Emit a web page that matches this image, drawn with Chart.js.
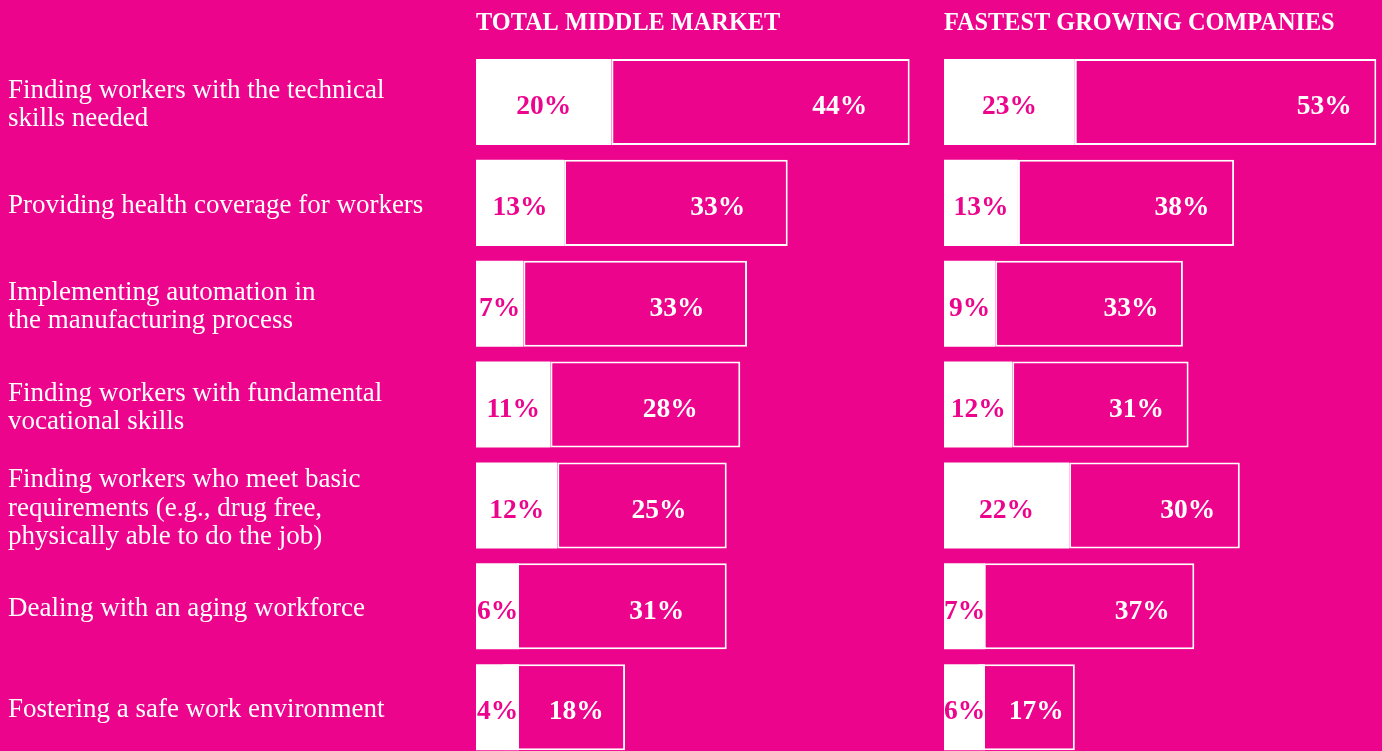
<!DOCTYPE html>
<html>
<head>
<meta charset="utf-8">
<script src="https://cdn.jsdelivr.net/npm/chart.js@4.4.0/dist/chart.umd.min.js"></script>
<style>
html, body { margin:0; padding:0; background:#EC048C; overflow:hidden; width:1382px; height:751px; }
#grafico1 { position:absolute; left:0; top:0; width:930px; height:760px; }
#grafico2 { position:absolute; left:930px; top:0; width:452px; height:760px; }
</style>
</head>
<body>
<canvas id="grafico1" width="930" height="760"></canvas>
<canvas id="grafico2" width="452" height="760"></canvas>
<script>
var rosa = "#EC048C";

// categorias (etiquetas del eje y, en varias lineas)
var categorias = [
    ["Finding workers with the technical", "skills needed"],
    "Providing health coverage for workers",
    ["Implementing automation in", "the manufacturing process"],
    ["Finding workers with fundamental", "vocational skills"],
    ["Finding workers who meet basic", "requirements (e.g., drug free,", "physically able to do the job)"],
    "Dealing with an aging workforce",
    "Fostering a safe work environment"
];

// TOTAL MIDDLE MARKET
var totalBlanco = [20, 13, 7, 11, 12, 6, 4];
var totalRosa   = [44, 33, 33, 28, 25, 31, 18];

// FASTEST GROWING COMPANIES
var rapidoBlanco = [23, 13, 9, 12, 22, 7, 6];
var rapidoRosa   = [53, 38, 33, 31, 30, 37, 17];

// dibuja los porcentajes y el titulo de cada panel
var etiquetas = {
    id: 'etiquetas',
    afterDatasetsDraw: function(chart, args, opts) {
        var ctx = chart.ctx;
        ctx.save();
        ctx.font = 'bold 27.5px "Liberation Serif"';
        ctx.textAlign = 'center';
        ctx.textBaseline = 'alphabetic';
        chart.data.datasets.forEach(function(ds, i) {
            var meta = chart.getDatasetMeta(i);
            meta.data.forEach(function(bar, j) {
                var x;
                if (i == 0) {
                    x = (bar.base + bar.x) / 2;
                    ctx.fillStyle = rosa;
                } else {
                    x = bar.x - Math.min(opts.distancia, (bar.x - bar.base) * 0.4);
                    ctx.fillStyle = "white";
                }
                ctx.fillText(ds.valores[j] + "%", x, bar.y + 12.3);
            });
        });
        ctx.font = 'bold 24.3px "Liberation Serif"';
        ctx.textAlign = 'left';
        ctx.fillStyle = "white";
        ctx.fillText(opts.titulo, chart.chartArea.left, 30);
        ctx.restore();
    }
};

function graficoPanel(idElement, titulo, blanco, rojo, maximo, conEjeY, paddingIzq, distancia, minimo) {
    var ctx = document.getElementById(idElement);
    // la barra rosa va de donde termina la blanca hasta el total
    var tramos = blanco.map(function(b, i) { return [b, b + rojo[i]]; });
    return new Chart(ctx, {
        type: 'bar',
        data: {
            labels: categorias,
            datasets: [{
                // el blanco se dibuja encima y tiene un ancho minimo para que quepa el texto
                data: blanco,
                valores: blanco,
                backgroundColor: "white",
                borderWidth: 0,
                minBarLength: minimo,
                grouped: false,
                barPercentage: 0.853,
                categoryPercentage: 1
            }, {
                data: tramos,
                valores: rojo,
                backgroundColor: rosa,
                borderColor: "white",
                borderWidth: 2,
                borderSkipped: false,
                grouped: false,
                barPercentage: 0.853,
                categoryPercentage: 1
            }]
        },
        options: {
            indexAxis: 'y',
            responsive: false,
            animation: false,
            layout: { padding: { left: paddingIzq, top: 51.6, bottom: 2.4, right: 0 } },
            plugins: {
                legend: { display: false },
                tooltip: { enabled: false },
                etiquetas: { titulo: titulo, distancia: distancia }
            },
            scales: {
                x: {
                    min: 0,
                    max: maximo,
                    display: false
                },
                y: {
                    display: conEjeY,
                    grid: { display: false },
                    border: { display: false },
                    afterFit: function(scale) {
                        if (!conEjeY) return;
                        // ancho fijo de la columna de textos, sin margen extra arriba/abajo
                        scale.width = 476 - paddingIzq;
                        scale.paddingTop = 0;
                        scale.paddingBottom = 0;
                    },
                    ticks: {
                        autoSkip: false,
                        crossAlign: 'far',
                        color: "white",
                        padding: 0,
                        labelOffset: 3,
                        font: { family: '"Liberation Serif"', size: 27, lineHeight: 1.05 }
                    }
                }
            }
        },
        plugins: [etiquetas]
    });
}

graficoPanel("grafico1", "TOTAL MIDDLE MARKET", totalBlanco, totalRosa, 67, true, 8, 70, 43);
graficoPanel("grafico2", "FASTEST GROWING COMPANIES", rapidoBlanco, rapidoRosa, 77, false, 14, 52, 41);
</script>
</body>
</html>
